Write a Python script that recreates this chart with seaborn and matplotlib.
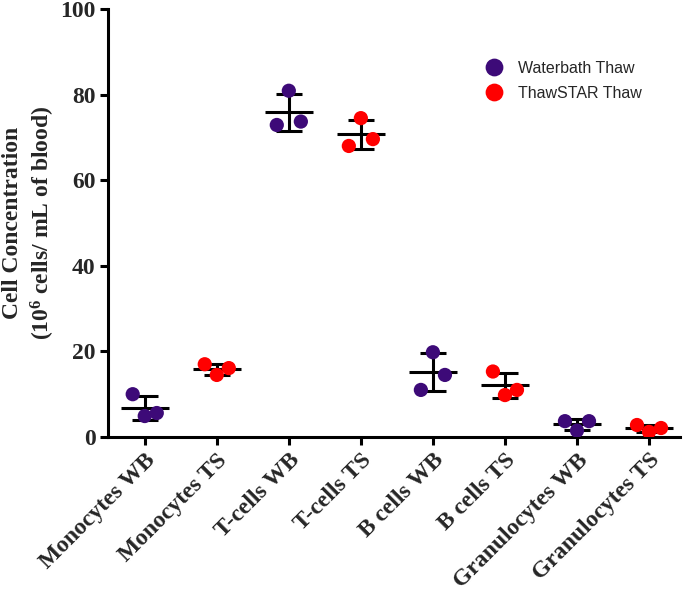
import numpy as np
import pandas as pd
import matplotlib
matplotlib.use("Agg")
import matplotlib.pyplot as plt
import seaborn as sns

# ---- data (values listed as left, centre, right point of each group) ----
categories = ["Monocytes WB", "Monocytes TS", "T-cells WB", "T-cells TS",
              "B cells WB", "B cells TS", "Granulocytes WB", "Granulocytes TS"]
groups = ["Waterbath Thaw", "ThawSTAR Thaw", "Waterbath Thaw", "ThawSTAR Thaw",
          "Waterbath Thaw", "ThawSTAR Thaw", "Waterbath Thaw", "ThawSTAR Thaw"]
left_vals = [10.0, 17.0, 72.9, 68.0, 11.0, 15.3, 3.7, 2.8]
centre_vals = [4.9, 14.5, 80.9, 74.5, 19.8, 9.8, 1.5, 1.2]
right_vals = [5.6, 16.1, 73.7, 69.6, 14.5, 11.0, 3.7, 2.1]
yticks = [0, 20, 40, 60, 80, 100]

palette = {"Waterbath Thaw": "#3d0a78", "ThawSTAR Thaw": "#ff0000"}

sns.set_theme(style="ticks")
plt.rcParams["font.family"] = ["Liberation Serif", "DejaVu Serif"]
plt.rcParams["mathtext.default"] = "regular"

rows = []
for i, c in enumerate(categories):
    for j, v in enumerate([left_vals[i], centre_vals[i], right_vals[i]]):
        rows.append({"cat": c, "idx": i, "slot": j - 1, "value": v, "group": groups[i]})
df = pd.DataFrame(rows)
df["x"] = df["idx"] + df["slot"] * 0.167

fig = plt.figure(figsize=(6.85, 5.91), dpi=100)
ax = fig.add_axes([108 / 685, (591 - 437) / 591, (680 - 108) / 685, (437 - 9) / 591])

# mean +/- SD
stats = df.groupby("idx")["value"].agg(["mean", "std"])
lw = 2.2
for i, r in stats.iterrows():
    m, s = r["mean"], r["std"]
    ax.hlines(m, i - 0.335, i + 0.335, color="black", lw=lw, zorder=2)
    ax.vlines(i, m - s, m + s, color="black", lw=lw, zorder=2)
    ax.hlines([m - s, m + s], i - 0.18, i + 0.18, color="black", lw=lw, zorder=2)

sns.scatterplot(data=df, x="x", y="value", hue="group", palette=palette,
                hue_order=["Waterbath Thaw", "ThawSTAR Thaw"],
                s=105, edgecolor="none", linewidth=0, ax=ax, zorder=3)

ax.set_xlim(-0.51, 7.43)
ax.set_ylim(0, 100)
ax.set_xticks(range(len(categories)))
ax.set_xticklabels(categories, rotation=45, ha="right", rotation_mode="anchor",
                   fontsize=17, fontweight="bold")
ax.set_yticks(yticks)
ax.set_yticklabels([str(t) for t in yticks], fontsize=17, fontweight="bold")
ax.tick_params(axis="both", direction="out", length=6, width=lw, color="black", pad=3)
ax.tick_params(axis="x", pad=3)
for sp in ["top", "right"]:
    ax.spines[sp].set_visible(False)
for sp in ["left", "bottom"]:
    ax.spines[sp].set_linewidth(lw)
    ax.spines[sp].set_color("black")
ax.set_xlabel("")
ax.set_ylabel("Cell Concentration\n(10$^6$ cells/ mL of blood)", fontsize=17,
              fontweight="bold", linespacing=1.3)
ax.yaxis.set_label_coords(-0.089, 0.5)

leg = ax.legend(loc="upper left", bbox_to_anchor=(0.622, 0.913), frameon=False,
                prop={"family": "Liberation Sans", "size": 11.5},
                handletextpad=0.5, labelspacing=0.65, markerscale=1.25)

fig.savefig("out.png", dpi=100)
